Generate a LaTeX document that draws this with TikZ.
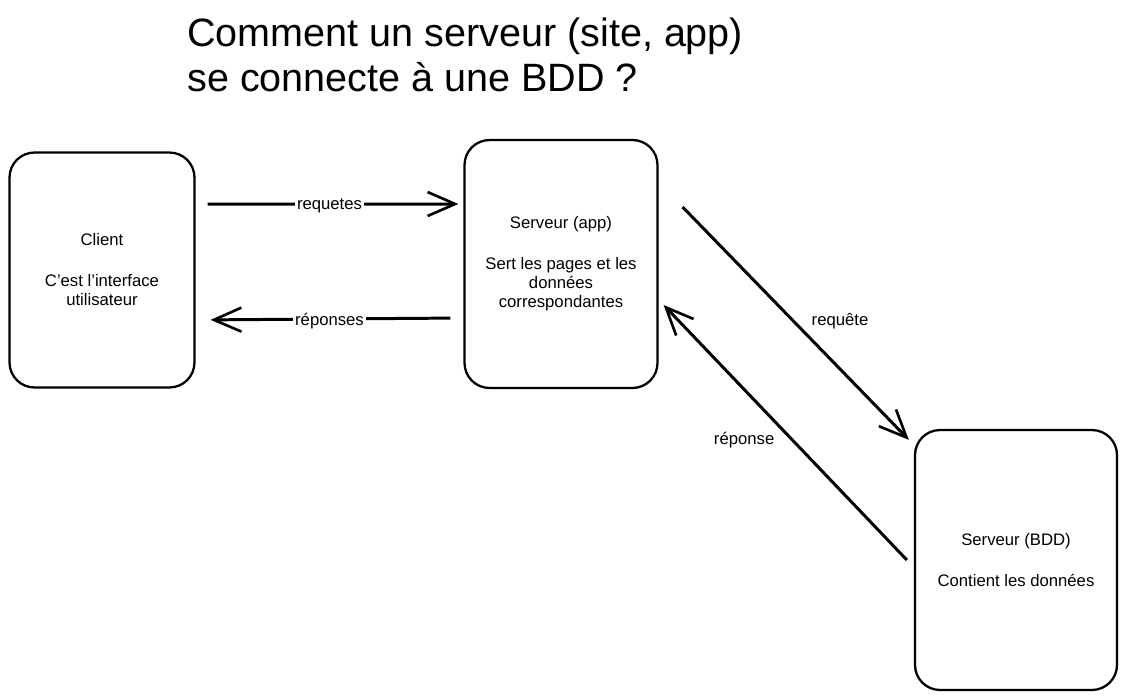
\documentclass[tikz,border=0pt]{standalone}
\usepackage{fontspec}
\setmainfont{Liberation Sans}
\usetikzlibrary{arrows.meta,positioning}
\begin{document}
\begin{tikzpicture}[x=0.02cm,y=-0.02cm,
  box/.style={draw,line width=1.3pt,rounded corners=0.5cm,align=center,
    font=\fontsize{9.5}{10.8}\selectfont},
  flow/.style={line width=1.7pt,-{Straight Barb[length=5.5mm,width=4.8mm,line width=1.5pt]}},
  lbl/.style={font=\fontsize{9.5}{10.8}\selectfont,inner sep=1pt}]
\useasboundingbox (0,0) rectangle (1127,700);
\node [anchor=west,align=left,inner sep=0pt,font=\fontsize{22.5}{26}\selectfont,name=title] at (187,55)
  {Comment un serveur (site, app)\\se connecte à une BDD ?};
\node [box,name=client,minimum width=3.7cm,minimum height=4.7cm] at (102,270)
  {Client\\[0.44cm]C'est l'interface\\utilisateur};
\node [box,name=app,minimum width=3.86cm,minimum height=4.96cm] at (561,264)
  {Serveur (app)\\[0.44cm]Sert les pages et les\\données\\correspondantes};
\node [box,name=bdd,minimum width=4.04cm,minimum height=5.2cm] at (1016,560)
  {Serveur (BDD)\\[0.44cm]Contient les données};
\draw[flow,shorten <=0.24cm,shorten >=0.1cm] ([yshift=1.32cm]client.east)--([yshift=1.2cm]app.west)
  node[lbl,midway,fill=white,yshift=-1pt]{requetes};
\draw[flow,shorten <=0.26cm,shorten >=0.3cm] ([yshift=-1.08cm]app.west)--([yshift=-1.0cm]client.east)
  node[lbl,midway,fill=white,yshift=-1pt]{réponses};
\draw[flow] ([xshift=0.48cm,yshift=1.14cm]app.east)--([xshift=-0.1cm,yshift=-0.22cm]bdd.north west)
  node[lbl,pos=0.49,right=0.3cm]{requête};
\draw[flow] ([xshift=-0.14cm]bdd.west)--([xshift=0.1cm,yshift=-0.82cm]app.east)
  node[lbl,pos=0.47,left=0.3cm]{réponse};
\end{tikzpicture}
\end{document}
